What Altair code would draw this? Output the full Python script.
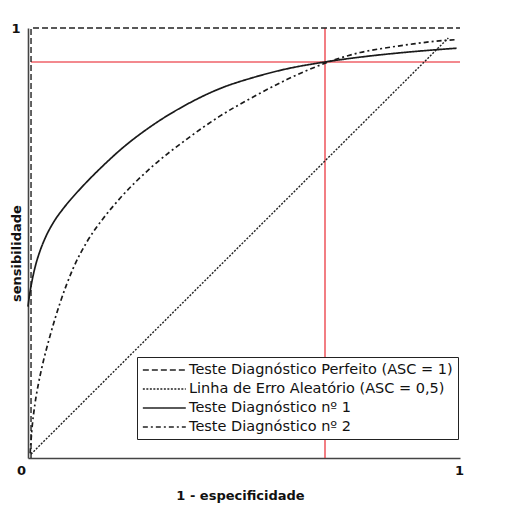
import altair as alt
import pandas as pd

# ---- data ----
series_names = [
    "Teste Diagnóstico Perfeito (ASC = 1)",
    "Linha de Erro Aleatório (ASC = 0,5)",
    "Teste Diagnóstico nº 1",
    "Teste Diagnóstico nº 2",
]

perfect_x = [0.007, 0.007, 1.0]
perfect_y = [0.0, 1.0, 1.0]

random_x = [0.007, 0.973]
random_y = [0.009, 0.977]

test1_x = [0.0, 0.002, 0.005, 0.008, 0.012, 0.018, 0.028, 0.040, 0.059, 0.080,
           0.097, 0.136, 0.174, 0.213, 0.290, 0.367, 0.444, 0.522, 0.599, 0.6875,
           0.792, 0.869, 0.992]
test1_y = [0.352, 0.368, 0.388, 0.405, 0.425, 0.450, 0.482, 0.512, 0.548, 0.578,
           0.599, 0.642, 0.680, 0.716, 0.775, 0.822, 0.859, 0.885, 0.905, 0.921,
           0.935, 0.943, 0.953]

test2_x = [0.005, 0.0085, 0.016, 0.024, 0.032, 0.051, 0.074, 0.105, 0.136, 0.174,
           0.213, 0.290, 0.367, 0.444, 0.522, 0.599, 0.6875, 0.722, 0.769, 0.830,
           0.892, 0.931, 0.992]
test2_y = [0.011, 0.060, 0.125, 0.172, 0.210, 0.284, 0.360, 0.442, 0.502, 0.557,
           0.604, 0.680, 0.741, 0.795, 0.840, 0.880, 0.918, 0.930, 0.943, 0.954,
           0.963, 0.968, 0.973]

cut_x = 0.6875
cut_y = 0.921
cut_x_start = 0.007

dash_range = [[6, 3], [2, 1.5], [1, 0], [5, 3, 2, 3]]

# ---- tables ----
def make(name, xs, ys):
    return pd.DataFrame({"serie": name, "x": xs, "y": ys, "i": range(len(xs))})

straight = pd.concat([make(series_names[0], perfect_x, perfect_y),
                      make(series_names[1], random_x, random_y)])
curves = pd.concat([make(series_names[2], test1_x, test1_y),
                    make(series_names[3], test2_x, test2_y)])

vrule = pd.DataFrame({"x": [cut_x], "y": [0.0], "y2": [1.0]})
hrule = pd.DataFrame({"y": [cut_y], "x": [cut_x_start], "x2": [1.0]})

FONT = "DejaVu Sans"

xscale = alt.Scale(domain=[0, 1], nice=False, zero=False)
yscale = alt.Scale(domain=[0, 1], nice=False, zero=False)

x_axis = alt.Axis(
    values=[0, 1], format="d", title="1 - especificidade", grid=False, ticks=False,
    tickSize=0, domainColor="#444", domainWidth=1.6, labelFlush=False, labelPadding=6,
    labelFont=FONT, labelFontSize=13, labelFontWeight="bold", labelColor="#111",
    labelOffset={"condition": {"test": "datum.value === 0", "value": -7}, "value": -1},
    titleFont=FONT, titleFontSize=13, titleFontWeight="bold", titleColor="#111",
    titleX=212, titleY=37, titleBaseline="middle", titleAlign="center",
)
y_axis = alt.Axis(
    values=[1], format="d", title="sensibilidade", grid=False, ticks=False, tickSize=0,
    domainColor="#444", domainWidth=1.6, labelFlush=False, labelPadding=8,
    labelFont=FONT, labelFontSize=13, labelFontWeight="bold", labelColor="#111",
    titleFont=FONT, titleFontSize=13, titleFontWeight="bold", titleColor="#111",
    titleX=-12, titleY=225, titleAngle=270, titleBaseline="middle", titleAlign="center",
)

dash_scale = alt.Scale(domain=series_names, range=dash_range)
legend = alt.Legend(
    title=None, orient="none", legendX=109, legendY=329,
    symbolType="M-1,0H5", symbolSize=205, symbolStrokeColor="#222",
    symbolStrokeWidth=1.5, symbolFillColor="transparent",
    labelFont=FONT, labelFontSize=14.5, labelColor="#111", labelOffset=31,
    labelLimit=500, rowPadding=4, padding=5,
    strokeColor="#222", fillColor="white",
)

red = "#e8141e"
v = alt.Chart(vrule).mark_rule(color=red, strokeWidth=1.1).encode(
    x=alt.X("x:Q", scale=xscale, axis=x_axis),
    y=alt.Y("y:Q", scale=yscale, axis=y_axis),
    y2="y2:Q",
)
h = alt.Chart(hrule).mark_rule(color=red, strokeWidth=1.1).encode(
    x=alt.X("x:Q", scale=xscale), x2="x2:Q",
    y=alt.Y("y:Q", scale=yscale),
)

lines_straight = alt.Chart(straight).mark_line(color="#222", strokeWidth=1.4).encode(
    x=alt.X("x:Q", scale=xscale),
    y=alt.Y("y:Q", scale=yscale),
    strokeDash=alt.StrokeDash("serie:N", scale=dash_scale, legend=legend),
    order="i:Q",
)
lines_curves = alt.Chart(curves).mark_line(
    color="#1a1a1a", strokeWidth=1.7, interpolate="monotone"
).encode(
    x=alt.X("x:Q", scale=xscale),
    y=alt.Y("y:Q", scale=yscale),
    strokeDash=alt.StrokeDash("serie:N", scale=dash_scale, legend=legend),
    order="i:Q",
)

chart = alt.layer(v, h, lines_straight, lines_curves).properties(
    width=432, height=430,
    autosize=alt.AutoSizeParams(type="none"),
    padding={"left": 20, "top": 20, "right": 30, "bottom": 48},
    background="white",
).configure_view(strokeOpacity=0)

chart.save("out.html", embed_options={"renderer": "svg", "actions": False})
